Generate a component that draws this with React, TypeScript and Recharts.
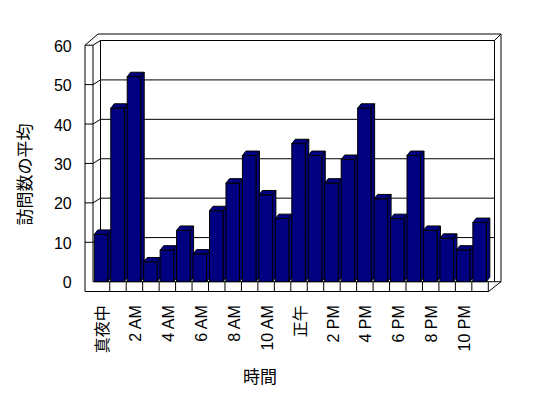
import React from "react";
import { BarChart, Bar, XAxis, YAxis, CartesianGrid } from "recharts";

const hours = [
	"真夜中", "1 AM", "2 AM", "3 AM", "4 AM", "5 AM", "6 AM", "7 AM", "8 AM", "9 AM", "10 AM", "11 AM",
	"正午", "1 PM", "2 PM", "3 PM", "4 PM", "5 PM", "6 PM", "7 PM", "8 PM", "9 PM", "10 PM", "11 PM"
];
const visits = [
	12, 44, 52, 5, 8, 13, 7, 18, 25, 32, 22, 16,
	35, 32, 25, 31, 44, 21, 16, 32, 13, 11, 8, 15
];
const yTicks = [0, 10, 20, 30, 40, 50, 60];

const data = hours.map((hour, i) => ({ hour, visits: visits[i] }));

const FONT = '"Liberation Sans", "Noto Sans CJK JP", sans-serif';
const NAVY = "#000080";
const DX = 3.5;
const DY = 4.5;
const BACK = 4.7; // back wall sits this much higher than the front plane

// 3D-looking column: front face, top face, side face
const Bar3D = (props: any) => {
	const { x, y, width: w, height: h } = props;
	if (h == null || h <= 0) return null;
	const top = `${x},${y} ${x + DX},${y - DY} ${x + w + DX},${y - DY} ${x + w},${y}`;
	const side = `${x + w},${y} ${x + w + DX},${y - DY} ${x + w + DX},${y + h - DY} ${x + w},${y + h}`;
	return (
		<g stroke="#000" strokeWidth={1} fill={NAVY}>
			<polygon points={side} />
			<polygon points={top} />
			<rect x={x} y={y} width={w} height={h} />
		</g>
	);
};

// back-wall gridline + tick on the left wall
const GridLine = (props: any) => {
	const y = props.y1;
	const bottom =
		props.y != null && props.height != null
			? Math.abs(y - props.y - props.height) < 1
			: y > 275;
	if (bottom) {
		return <line key={props.key} x1={93} y1={y} x2={501} y2={y} stroke="#000" />;
	}
	return (
		<g key={props.key} stroke="#000" fill="none">
			<line x1={100.5} y1={y - BACK} x2={494.5} y2={y - BACK} />
			<polyline points={`85,${y} 93,${y} 100.5,${y - BACK}`} />
		</g>
	);
};

const XTick = (props: any) => {
	const { x, y, payload } = props;
	const i = payload.index;
	const half = payload.offset != null ? payload.offset : 8.23;
	const lx = x - half;
	const rx = x + half;
	return (
		<g>
			{i > 0 && <line x1={lx} y1={y} x2={lx} y2={y + 9.8} stroke="#000" />}
			{i === hours.length - 1 && <line x1={rx} y1={y} x2={rx} y2={y + 9.8} stroke="#000" />}
			{i % 2 === 0 && (
				<text
					x={x + 1}
					y={y + 23.5}
					dy="0.35em"
					textAnchor="end"
					fontSize={16}
					fontFamily={FONT}
					fill="#000"
					transform={`rotate(-90, ${x + 1}, ${y + 23.5})`}
				>
					{payload.value}
				</text>
			)}
		</g>
	);
};

const YTick = (props: any) => {
	const { x, y, payload } = props;
	return (
		<text x={x} y={y + 1} dy="0.35em" textAnchor="end" fontSize={16} fontFamily={FONT} fill="#000">
			{payload.value}
		</text>
	);
};

const Frame = () => (
	<svg width={548} height={398} style={{ position: "absolute", left: 0, top: 0 }}>
		<rect x={0} y={0} width={548} height={398} fill="#fff" />
		<g stroke="#000" fill="none" strokeWidth={1}>
			<path d="M85 45.2 L98 34 H501 V281.7" />
			<path d="M494.5 40.5 L501 34" />
			<path d="M100.5 40.5 V281.7" />
			<path d="M494.5 40.5 V281.7" />
			<path d="M85 45.2 V291.5" />
			<path d="M93 45.2 V281.7" />
			<path d="M85 291.5 H488.5 L501 281.7" />
		</g>
	</svg>
);

const App = () => {
	return (
		<div style={{ position: "absolute", left: 0, top: 0, width: 548, height: 398 }}>
			<Frame />
			<div style={{ position: "absolute", left: 0, top: 0 }}>
				<BarChart
					width={548}
					height={398}
					data={data}
					margin={{ top: 45.2, right: 59.7, bottom: 0, left: 0 }}
					barSize={13.5}
				>
					<CartesianGrid vertical={false} horizontal={GridLine} />
					<XAxis
						dataKey="hour"
						interval={0}
						height={116.3}
						axisLine={false}
						tickLine={false}
						tickSize={0}
						tickMargin={0}
						tick={XTick}
						label={() => (
							<text x={260} y={377} dy="0.35em" textAnchor="middle" fontSize={17} fontFamily={FONT} fill="#000">
								時間
							</text>
						)}
					/>
					<YAxis
						domain={[0, 60]}
						ticks={yTicks}
						width={93.3}
						axisLine={false}
						tickLine={false}
						tickSize={0}
						tickMargin={21.6}
						tick={YTick}
						label={() => (
							<text
								x={25}
								y={174.5}
								dy="0.35em"
								textAnchor="middle"
								fontSize={17}
								fontFamily={FONT}
								fill="#000"
								transform="rotate(-90, 25, 174.5)"
							>
								訪問数の平均
							</text>
						)}
					/>
					<Bar dataKey="visits" shape={Bar3D} isAnimationActive={false} />
				</BarChart>
			</div>
		</div>
	);
};

export default App;
